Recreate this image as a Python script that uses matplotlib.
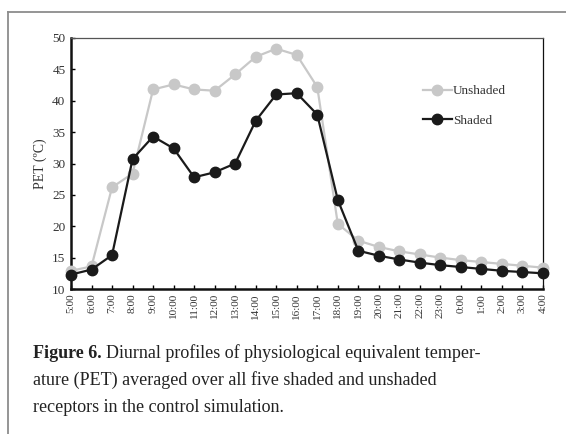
import matplotlib
matplotlib.use("Agg")
import matplotlib.pyplot as plt
from matplotlib.lines import Line2D

hours = ["5:00", "6:00", "7:00", "8:00", "9:00", "10:00", "11:00", "12:00", "13:00",
         "14:00", "15:00", "16:00", "17:00", "18:00", "19:00", "20:00", "21:00",
         "22:00", "23:00", "0:00", "1:00", "2:00", "3:00", "4:00"]
unshaded = [12.9, 13.6, 26.2, 28.4, 41.8, 42.6, 41.8, 41.6, 44.2, 47.0, 48.3, 47.3,
            42.2, 20.4, 17.7, 16.7, 16.0, 15.5, 15.0, 14.6, 14.3, 14.0, 13.7, 13.4]
shaded = [12.3, 13.1, 15.4, 30.7, 34.3, 32.4, 27.8, 28.6, 30.0, 36.8, 41.0, 41.2,
          37.8, 24.2, 16.1, 15.3, 14.7, 14.2, 13.8, 13.5, 13.2, 12.9, 12.7, 12.5]
yticks = [10, 15, 20, 25, 30, 35, 40, 45, 50]

plt.rcParams['font.family'] = ['Liberation Serif', 'DejaVu Serif']

W, H = 566, 434
fig = plt.figure(figsize=(W / 100, H / 100), dpi=100)
fig.patch.set_facecolor("white")

# frame around figure panel
fig.add_artist(Line2D([8 / W, 1.0], [1 - 12 / H, 1 - 12 / H], transform=fig.transFigure,
                      color="#8c8c8c", lw=1.3))
fig.add_artist(Line2D([8 / W, 8 / W], [0, 1 - 12 / H], transform=fig.transFigure,
                      color="#8c8c8c", lw=1.3))

ax = fig.add_axes([71 / W, 1 - 289 / H, (543 - 71) / W, (289 - 38) / H])
x = list(range(len(hours)))
ax.plot(x, unshaded, color="#c8c8c8", lw=1.6, marker="o", markersize=7.5,
        label="Unshaded", clip_on=False, zorder=3)
ax.plot(x, shaded, color="#1a1a1a", lw=1.6, marker="o", markersize=7.5,
        label="Shaded", clip_on=False, zorder=4)

ax.set_xlim(0, len(hours) - 1)
ax.set_ylim(10, 50)
ax.set_yticks(yticks)
ax.set_xticks(x)
ax.set_xticklabels(hours, rotation=90, fontsize=8, color="#333333")
ax.tick_params(axis="y", labelsize=9.5, labelcolor="#333333", direction="in",
               length=3, width=1, pad=4)
ax.tick_params(axis="x", direction="in", length=3, width=1, pad=3)
ax.set_ylabel("PET (ºC)", fontsize=10, color="#333333", labelpad=4)

ax.spines["left"].set_linewidth(1.8)
ax.spines["bottom"].set_linewidth(1.8)
ax.spines["left"].set_color("#111111")
ax.spines["bottom"].set_color("#111111")
ax.spines["top"].set_linewidth(0.9)
ax.spines["top"].set_color("#555555")
ax.spines["right"].set_linewidth(0.9)
ax.spines["right"].set_color("#111111")

leg = ax.legend(loc="upper left", bbox_to_anchor=(0.72, 0.86), frameon=False,
                fontsize=9.5, handlelength=2.2, handletextpad=0.1,
                labelspacing=1.3, labelcolor="#333333")

# caption
fs = 13
t1 = fig.text(33 / W, 1 - 358 / H, "Figure 6.", fontsize=fs, fontweight="bold",
              va="baseline", ha="left", color="#222222")
ax.annotate("Diurnal profiles of physiological equivalent temper-",
            xy=(1, 0), xycoords=t1, xytext=(3, 0), textcoords="offset points",
            fontsize=fs, va="bottom", ha="left", color="#222222",
            annotation_clip=False)
fig.text(33 / W, 1 - 385 / H,
         "ature (PET) averaged over all five shaded and unshaded",
         fontsize=fs, va="baseline", ha="left", color="#222222")
fig.text(33 / W, 1 - 412 / H,
         "receptors in the control simulation.",
         fontsize=fs, va="baseline", ha="left", color="#222222")

fig.savefig("out.png", dpi=100, facecolor="white")
